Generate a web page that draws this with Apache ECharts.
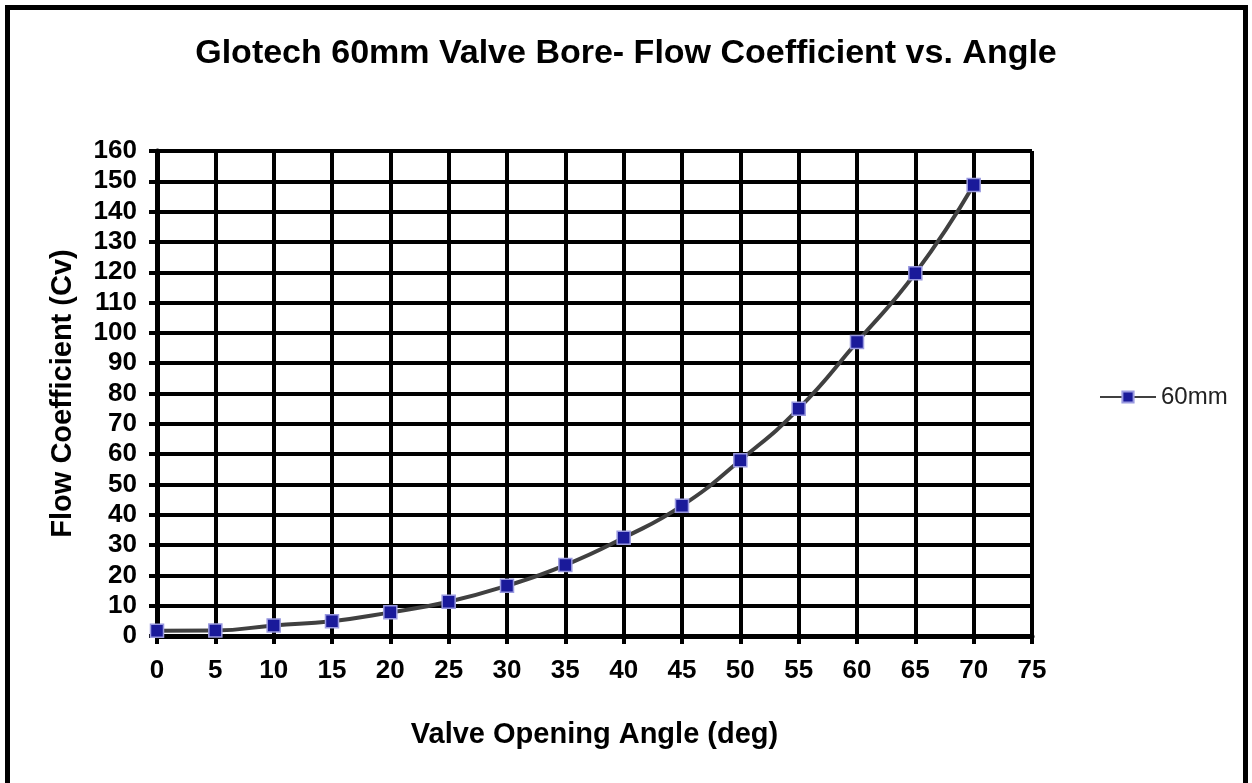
<!DOCTYPE html>
<html>
<head>
<meta charset="utf-8">
<script src="https://cdn.jsdelivr.net/npm/echarts@6/dist/echarts.min.js"></script>
<style>html,body{margin:0;padding:0;background:#fff;}#chart{width:1252px;height:783px;}</style>
</head>
<body>
<div id="chart"></div>
<script>
var angles = [0, 5, 10, 15, 20, 25, 30, 35, 40, 45, 50, 55, 60, 65, 70];
var cv60mm = [1.7, 1.8, 3.5, 4.9, 7.8, 11.3, 16.6, 23.4, 32.4, 43, 58, 75, 97, 119.7, 148.8];
var seriesName = '60mm';
var titleText = 'Glotech 60mm Valve Bore- Flow Coefficient vs. Angle';
var xName = 'Valve Opening Angle (deg)';
var yName = 'Flow Coefficient (Cv)';

var chart = echarts.init(document.getElementById('chart'));
var font = 'Liberation Sans, Arial, sans-serif';
chart.setOption({
  backgroundColor: '#fff',
  animation: false,
  title: {
    text: titleText, left: 'center', top: 32,
    textStyle: {fontFamily: font, fontWeight: 'bold', fontSize: 34, color: '#000'}
  },
  legend: {
    data: [seriesName], left: 1094, top: 380, orient: 'vertical',
    itemWidth: 56, itemHeight: 14, itemGap: 8,
    textStyle: {fontFamily: font, fontSize: 24, color: '#222'}
  },
  grid: {left: 157, right: 220, top: 151, bottom: 147, containLabel: false},
  xAxis: {
    type: 'value', min: 0, max: 75, interval: 5,
    name: xName, nameLocation: 'middle', nameGap: 84,
    nameTextStyle: {fontFamily: font, fontWeight: 'bold', fontSize: 29, color: '#000'},
    axisLine: {show: true, lineStyle: {color: '#000', width: 5}},
    axisTick: {show: true, length: 8, lineStyle: {color: '#000', width: 4}},
    axisLabel: {margin: 22, fontFamily: font, fontWeight: 'bold', fontSize: 26, color: '#000'},
    splitLine: {show: true, lineStyle: {color: '#000', width: 4}}
  },
  yAxis: {
    type: 'value', min: 0, max: 160, interval: 10,
    name: yName, nameLocation: 'middle', nameGap: 80,
    nameTextStyle: {fontFamily: font, fontWeight: 'bold', fontSize: 29, color: '#000'},
    axisLine: {show: true, lineStyle: {color: '#000', width: 5}},
    axisTick: {show: true, length: 8, lineStyle: {color: '#000', width: 4}},
    axisLabel: {margin: 20, fontFamily: font, fontWeight: 'bold', fontSize: 26, color: '#000'},
    splitLine: {show: true, lineStyle: {color: '#000', width: 4}}
  },
  series: [{
    name: seriesName, type: 'line', smooth: true,
    data: angles.map(function (a, i) { return [a, cv60mm[i]]; }),
    symbol: 'rect', symbolSize: 13,
    lineStyle: {color: '#404040', width: 4},
    itemStyle: {color: '#1a1a9a', borderColor: '#9a9ae0', borderWidth: 1.5}
  }],
  graphic: [{
    type: 'rect', shape: {x: 7.5, y: 7.5, width: 1238, height: 800},
    style: {fill: 'none', stroke: '#000', lineWidth: 5}, silent: true, z: 100
  }]
});
</script>
</body>
</html>
